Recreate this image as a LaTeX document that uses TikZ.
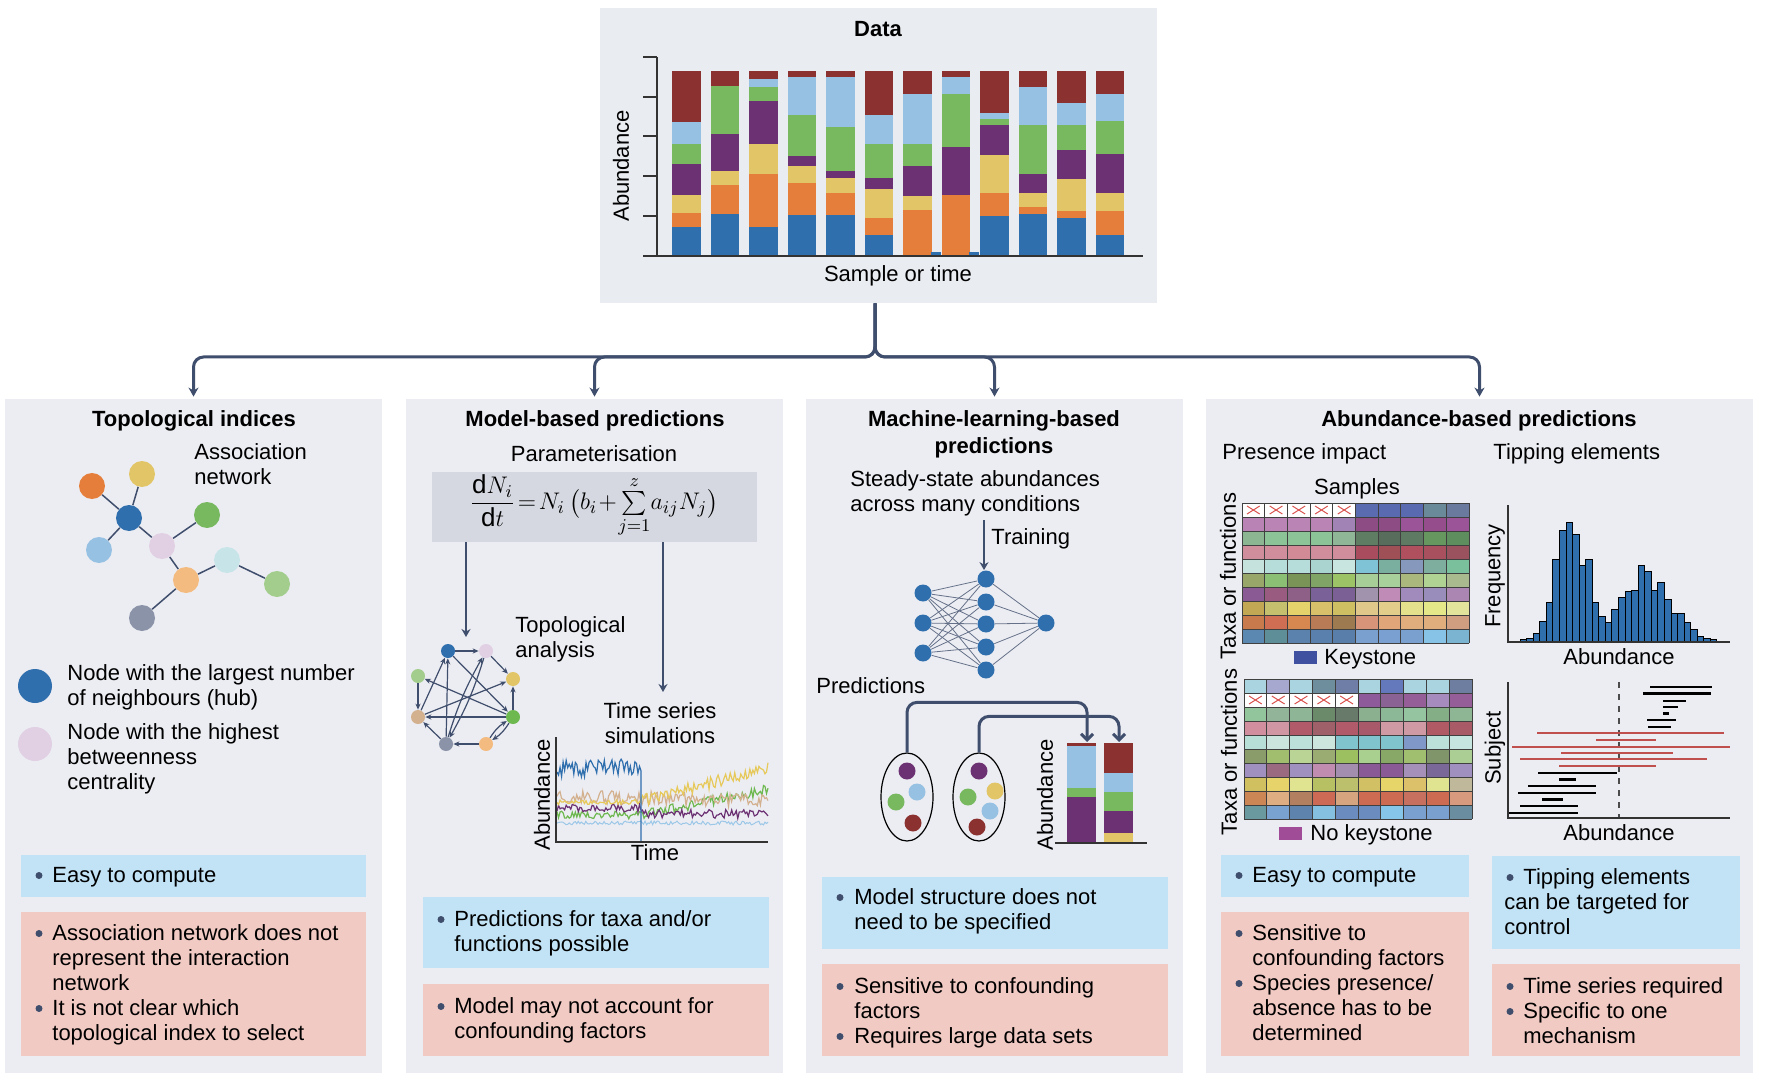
\documentclass[tikz,border=0pt]{standalone}
\usepackage{amsmath}
\usepackage{fontspec}
\setmainfont{Liberation Sans}
\usetikzlibrary{arrows.meta,shapes.geometric,fit}
\definecolor{slate}{HTML}{3F4E6C}
\definecolor{panelbg}{HTML}{ECEDF3}
\definecolor{databg}{HTML}{E9ECF1}
\definecolor{eqbg}{HTML}{D5D8E0}
\definecolor{probox}{HTML}{C2E3F6}
\definecolor{conbox}{HTML}{F2CAC4}
\definecolor{cred}{HTML}{8B3230}
\definecolor{clb}{HTML}{96C1E3}
\definecolor{cgreen}{HTML}{78B960}
\definecolor{cpurple}{HTML}{6B3172}
\definecolor{cyellow}{HTML}{E1C566}
\definecolor{corange}{HTML}{E57E3A}
\definecolor{cblue}{HTML}{2F6FAD}
\definecolor{cpink}{HTML}{E1CFE3}
\definecolor{cpeach}{HTML}{F4BB80}
\definecolor{ccyan}{HTML}{C7E5E8}
\definecolor{clgreen}{HTML}{A3CD8C}
\definecolor{cgray}{HTML}{8A93A8}
\definecolor{ctan}{HTML}{D3B08E}
\definecolor{ctsyel}{HTML}{E6C95A}
\definecolor{ctsgreen}{HTML}{6DB84F}
\definecolor{ctsblue}{HTML}{9CC8E8}
\definecolor{ckey}{HTML}{3F50A0}
\definecolor{cnokey}{HTML}{A04C96}
\definecolor{cxred}{HTML}{D9534F}
\definecolor{csubred}{HTML}{C0504D}
\newcommand{\tf}{\fontsize{11}{12.5}\selectfont\setbox\strutbox\hbox{\vrule height 8.75pt depth 3.75pt width 0pt}}
\newcommand{\mlines}[1]{\begin{tabular}[t]{@{}l@{}}#1\end{tabular}}
\newcommand{\mlinesc}[1]{\begin{tabular}[t]{@{}c@{}}#1\end{tabular}}
\begin{document}
\begin{tikzpicture}[x=0.5pt,y=-0.5pt,
  txt/.style={inner sep=0,font=\tf,anchor=base west},
  txtc/.style={inner sep=0,font=\tf,anchor=base},
  ttl/.style={inner sep=0,font=\tf\bfseries,anchor=base},
  rot/.style={inner sep=0,font=\tf,rotate=90,anchor=center},
  panel/.style={inner sep=0,fill=panelbg},
  pro/.style={inner sep=0,fill=probox},
  con/.style={inner sep=0,fill=conbox},
  conn/.style={draw=slate,line width=1.5pt,rounded corners=5pt,-{Stealth[length=4.5pt,width=5pt]},shorten >=1pt},
  bul/.style={fill=slate},
  dot/.style={circle,inner sep=0,minimum size=13pt},
  sdot/.style={circle,inner sep=0,minimum size=7pt},
  nn/.style={circle,inner sep=0,minimum size=8.5pt,fill=cblue},
  edge1/.style={draw=slate,line width=0.75pt},
  darr/.style={draw=slate,line width=0.6pt,-{Stealth[length=3pt,width=2.6pt]}},
  earrow/.style={draw=slate,line width=1.3pt,-{Stealth[length=4pt,width=4.5pt]}},
  mlarrow/.style={draw=slate,line width=1.5pt,rounded corners=5pt,-{Straight Barb[length=3pt,width=6pt]}},
  axis/.style={draw=black!80,line width=0.7pt},
  gl/.style={draw=black!75,line width=0.5pt}
]
\useasboundingbox (0,0) rectangle (1776,1080);
\fill[white] (0,0) rectangle (1776,1080);

% ---------- Data box ----------
\node[fit={(600,8)(1157,303)},inner sep=0,fill=databg] (data) {};
\node[ttl] (tdata) at (878,37) {Data};
\foreach \a/\b/\c/\d/\e/\f/\g/\h [count=\i from 0] in {
 213/367/432/492/586/639/682/768,
 213/258/258/403/514/554/641/768,
 213/238/261/302/431/521/682/768,
 213/232/346/468/498/548/645/768,
 213/232/381/513/533/579/645/768,
 213/346/431/533/568/654/705/768,
 213/281/431/498/588/630/768/768,
 213/232/281/440/586/586/768/768,
 213/338/356/374/465/579/648/768,
 213/262/374/521/578/621/643/768,
 213/309/374/451/538/634/654/768,
 213/281/364/461/578/634/705/768}{
  \pgfmathsetmacro\xl{672+\i*38.5}
  \pgfmathsetmacro\xr{\xl+28.5}
  \fill[cred] (\xl,{\a/3}) rectangle (\xr,{\b/3});
  \fill[clb] (\xl,{\b/3}) rectangle (\xr,{\c/3});
  \fill[cgreen] (\xl,{\c/3}) rectangle (\xr,{\d/3});
  \fill[cpurple] (\xl,{\d/3}) rectangle (\xr,{\e/3});
  \fill[cyellow] (\xl,{\e/3}) rectangle (\xr,{\f/3});
  \fill[corange] (\xl,{\f/3}) rectangle (\xr,{\g/3});
  \fill[cblue] (\xl,{\g/3}) rectangle (\xr,{\h/3});
}
\fill[cblue] (931,252) rectangle (941,256);
\fill[cblue] (969,252) rectangle (979,256);
\foreach \ty in {57,97,136,176,216} \draw[axis] (643,\ty) -- (657,\ty);
\draw[axis] (657,57) -- (657,256);
\draw[axis] (643,256) -- (1143,256);
\node[rot] (dab) at (621,166) {Abundance};
\node[txtc] (dsam) at (898,282) {Sample or time};

% ---------- Panels ----------
\node[panel,fit={(5,399)(382,1073)}] (p1) {};
\node[panel,fit={(406,399)(783,1073)}] (p2) {};
\node[panel,fit={(806,399)(1183,1073)}] (p3) {};
\node[panel,fit={(1206,399)(1753,1073)}] (p4) {};

\coordinate (hub) at (875,357);
\draw[conn] (data.south -| hub) -- (hub) -| (p1.north);
\draw[conn] (data.south -| hub) -- (hub) -| (p2.north);
\draw[conn] (data.south -| hub) -- (hub) -| (p3.north);
\draw[conn] (data.south -| hub) -- (hub) -| (p4.north);

% ---------- Panel 1 ----------
\node[ttl] (tt1) at (194,426) {Topological indices};
\node[txt] (assoc) at (194,459) {\mlines{Association\\network}};
\node[dot,fill=corange] (n1) at (92,486) {};
\node[dot,fill=cyellow] (n2) at (142,474) {};
\node[dot,fill=cblue] (n3) at (129,518) {};
\node[dot,fill=clb] (n4) at (99,550) {};
\node[dot,fill=cpink] (n5) at (162,546) {};
\node[dot,fill=cgreen] (n6) at (207,515) {};
\node[dot,fill=cpeach] (n7) at (186,580) {};
\node[dot,fill=ccyan] (n8) at (227,560) {};
\node[dot,fill=clgreen] (n9) at (277,584) {};
\node[dot,fill=cgray] (n10) at (142,618) {};
\draw[edge1] (n3) -- (n1);
\draw[edge1] (n3) -- (n2);
\draw[edge1] (n3) -- (n4);
\draw[edge1] (n3) -- (n5);
\draw[edge1] (n5) -- (n6);
\draw[edge1] (n5) -- (n7);
\draw[edge1] (n7) -- (n8);
\draw[edge1] (n8) -- (n9);
\draw[edge1] (n7) -- (n10);
\node[circle,inner sep=0,minimum size=17pt,fill=cblue] (lg1) at (35,686) {};
\node[circle,inner sep=0,minimum size=17pt,fill=cpink] (lg2) at (35,744) {};
\node[txt] (lgt1) at (67,680) {\mlines{Node with the largest number\\of neighbours (hub)}};
\node[txt] (lgt2) at (67,739) {\mlines{Node with the highest\\betweenness\\centrality}};
\node[pro,fit={(21,855)(366,897)}] (b1) {};
\fill[bul] (39,875.5) circle (1.75pt);
\node[txt] (b1t) at (52,882) {Easy to compute};
\node[con,fit={(21,912)(366,1056)}] (c1) {};
\fill[bul] (39,933.5) circle (1.75pt);
\fill[bul] (39,1008.5) circle (1.75pt);
\node[txt] (c1t) at (52,940) {\mlines{Association network does not\\represent the interaction\\network\\It is not clear which\\topological index to select}};

% ---------- Panel 2 ----------
\node[ttl] (tt2) at (595,426) {Model-based predictions};
\node[txtc] (param) at (594,461) {Parameterisation};
\node[fit={(432,472)(757,542)},inner sep=0,fill=eqbg] (eqbox) {};
\node[inner sep=0,font=\fontsize{13}{15}\selectfont] (eq) at (594,506)
  {$\displaystyle\frac{\mathrm{d}N_i}{\mathrm{d}t}\!=\!N_i\,\bigl(b_i\!+\!\textstyle\sum\limits_{j=1}^{z}\!a_{ij}N_j\bigr)$};
\coordinate (ea) at (466,637);
\coordinate (eb) at (663,692);
\draw[earrow] (eqbox.south -| ea) -- (ea);
\draw[earrow] (eqbox.south -| eb) -- (eb);
\node[sdot,fill=cblue] (m1) at (448,651) {};
\node[sdot,fill=cpink] (m2) at (486,651) {};
\node[sdot,fill=cyellow] (m3) at (513,679) {};
\node[sdot,fill=ctsgreen] (m4) at (513,717) {};
\node[sdot,fill=cpeach] (m5) at (486,744) {};
\node[sdot,fill=cgray] (m6) at (446,744) {};
\node[sdot,fill=ctan] (m7) at (418,717) {};
\node[sdot,fill=clgreen] (m8) at (418,676) {};
\draw[darr] (m1) -- (m2);
\draw[darr] (m2) -- (m3);
\draw[darr] (m1) -- (m4);
\draw[darr] (m2) to[bend left=6] (m6);
\draw[darr] (m6) to[bend left=6] (m2);
\draw[darr] (m4) -- (m8);
\draw[darr] (m7) -- (m3);
\draw[darr] (m4) -- (m7);
\draw[darr] (m8) -- (m7);
\draw[darr] (m7) -- (m1);
\draw[darr] (m6) -- (m1);
\draw[darr] (m4) -- (m3);
\draw[darr] (m5) to[bend left=12] (m4);
\draw[darr] (m4) to[bend left=12] (m5);
\draw[darr] (m5) -- (m6);
\draw[darr] (m6) -- (m7);
\node[txt] (topo) at (515,632) {\mlines{Topological\\analysis}};
\node[txtc] (tss) at (660,718) {\mlinesc{Time series\\simulations}};
\pgfmathsetseed{11}
\draw[ctsblue,line width=0.5pt] plot[domain=557:768,samples=140] (\x,{823+2*rand});
\draw[ctsgreen,line width=0.6pt] plot[domain=557:641,samples=56] (\x,{815+4*rand});
\draw[ctsgreen,line width=0.6pt] plot[domain=641:768,samples=85] (\x,{815-(\x-641)*0.2+5*rand});
\draw[cpurple,line width=0.6pt] plot[domain=557:641,samples=56] (\x,{808+4*rand});
\draw[cpurple,line width=0.6pt] plot[domain=641:768,samples=85] (\x,{814+4.5*rand});
\draw[ctan,line width=0.6pt] plot[domain=557:768,samples=140] (\x,{797+(\x-557)*0.015+7*rand});
\draw[ctsyel,line width=0.6pt] plot[domain=557:641,samples=56] (\x,{802+2.5*rand});
\draw[ctsyel,line width=0.6pt] plot[domain=641:768,samples=85] (\x,{801-(\x-641)*0.26+6*rand});
\draw[cblue,line width=0.6pt] plot[domain=557:641,samples=56] (\x,{768+9*rand}) -- (641,842);
\draw[axis] (556,737) -- (556,842) -- (768,842);
\node[rot] (tsab) at (542,795) {Abundance};
\node[txtc] (tstime) at (655,860) {Time};
\node[pro,fit={(423,897)(769,968)}] (b2) {};
\fill[bul] (441,919.5) circle (1.75pt);
\node[txt] (b2t) at (454,926) {\mlines{Predictions for taxa and/or\\functions possible}};
\node[con,fit={(423,984)(769,1056)}] (c2) {};
\fill[bul] (441,1006.5) circle (1.75pt);
\node[txt] (c2t) at (454,1013) {\mlines{Model may not account for\\confounding factors}};

% ---------- Panel 3 ----------
\node[ttl] (tt3) at (994,426) {\mlinesc{Machine-learning-based\\[1pt]predictions}};
\node[txt] (steady) at (850,486) {\mlines{Steady-state abundances\\across many conditions}};
\node[nn] (i1) at (923,593) {};
\node[nn] (i2) at (923,623) {};
\node[nn] (i3) at (923,653) {};
\node[nn] (h1) at (986,579) {};
\node[nn] (h2) at (986,602) {};
\node[nn] (h3) at (986,624) {};
\node[nn] (h4) at (986,647) {};
\node[nn] (h5) at (986,670) {};
\node[nn] (o1) at (1046,623) {};
\foreach \i in {1,2,3} \foreach \j in {1,...,5} \draw[draw=slate!80,line width=0.4pt] (i\i) -- (h\j);
\foreach \j in {1,...,5} \draw[draw=slate!80,line width=0.4pt] (h\j) -- (o1);
\coordinate (trs) at (984,520);
\draw[draw=slate,line width=1pt,-{Stealth[length=4pt,width=4.5pt]}] (trs) -- (trs |- h1.north);
\node[txt] (train) at (991,544) {Training};
\node[txt] (pred) at (816,693) {Predictions};
\node[ellipse,draw=black,line width=0.6pt,minimum width=26pt,minimum height=44pt,inner sep=0] (ell1) at (907,797) {};
\node[ellipse,draw=black,line width=0.6pt,minimum width=26pt,minimum height=44pt,inner sep=0] (ell2) at (979,797) {};
\node[circle,inner sep=0,minimum size=8.5pt,fill=cpurple] (e1a) at (907,771) {};
\node[circle,inner sep=0,minimum size=8.5pt,fill=clb] (e1b) at (917,792) {};
\node[circle,inner sep=0,minimum size=8.5pt,fill=cgreen] (e1c) at (896,802) {};
\node[circle,inner sep=0,minimum size=8.5pt,fill=cred] (e1d) at (913,823) {};
\node[circle,inner sep=0,minimum size=8.5pt,fill=cpurple] (e2a) at (979,771) {};
\node[circle,inner sep=0,minimum size=8.5pt,fill=cyellow] (e2b) at (995,791) {};
\node[circle,inner sep=0,minimum size=8.5pt,fill=cgreen] (e2c) at (968,797) {};
\node[circle,inner sep=0,minimum size=8.5pt,fill=clb] (e2d) at (990,811) {};
\node[circle,inner sep=0,minimum size=8.5pt,fill=cred] (e2e) at (977,827) {};
\fill[cred] (1067,742.7) rectangle (1096,746);
\fill[clb] (1067,746) rectangle (1096,787.7);
\fill[cgreen] (1067,787.7) rectangle (1096,797.3);
\fill[cpurple] (1067,797.3) rectangle (1096,843);
\fill[cred] (1104,742.7) rectangle (1133,772.7);
\fill[clb] (1104,772.7) rectangle (1133,791.7);
\fill[cgreen] (1104,791.7) rectangle (1133,811);
\fill[cpurple] (1104,811) rectangle (1133,833.3);
\fill[cyellow] (1104,833.3) rectangle (1133,843);
\draw[axis] (1055,843) -- (1147,843);
\node[rot] (mlab) at (1045,795) {Abundance};
\coordinate (bt1) at (1087,742);
\coordinate (bt2) at (1119,742);
\draw[mlarrow] (ell1.north) -- ++(0,-50) -| (bt1);
\draw[mlarrow] (ell2.north) -- ++(0,-36) -| (bt2);
\node[pro,fit={(822,877)(1168,949)}] (b3) {};
\fill[bul] (840,897.5) circle (1.75pt);
\node[txt] (b3t) at (854,904) {\mlines{Model structure does not\\need to be specified}};
\node[con,fit={(822,964)(1168,1056)}] (c3) {};
\fill[bul] (840,986.5) circle (1.75pt);
\fill[bul] (840,1036.5) circle (1.75pt);
\node[txt] (c3t) at (854,993) {\mlines{Sensitive to confounding\\factors\\Requires large data sets}};

% ---------- Panel 4 ----------
\node[ttl] (tt4) at (1479,426) {Abundance-based predictions};
\node[txt] (presence) at (1222,459) {Presence impact};
\node[txt] (tipping) at (1493,459) {Tipping elements};
\node[txtc] (samples) at (1357,494) {Samples};
\foreach \row [count=\r from 0] in {
 {FFFFFF,FFFFFF,FFFFFF,FFFFFF,FFFFFF,5B6BAF,5A6AB0,5A6AB0,6A8A9A,6A7A9F},
 {B983B5,BA84B5,BA84B5,BA84B5,A283B5,8E4C85,8E4C85,9B5497,954E8B,9B5497},
 {8CB592,8DC497,8DC497,8DC497,90B698,5E7D62,586D5C,5E7A62,66975F,5E8E5E},
 {D08E9C,D08E9C,D28A96,D08E9C,D08E9C,A84C5E,9E5056,B0505F,A9505F,9A525E},
 {C5E2DC,B6DDDA,B6DDDA,A9D4D0,C8E6DF,7EC4D6,7AAE9E,8698BC,7EAE9E,7AC09C},
 {98A66A,8BC074,7A9458,80A366,9CC466,A7CE96,A8D09A,AAB87E,B0D394,A9BB8E},
 {8A5A95,9A5B80,8E6088,7A6197,7A6095,A193AE,C08BB6,A08BBC,998DBB,AB86B2},
 {C2A855,C4C06E,E3D36A,D8C06A,CDBF62,E0C88A,E2CE8A,E3E18C,E4E888,E1E49A},
 {C97A4C,CF6E52,D78850,B87B56,9E7A50,D89478,E1A57A,DFAE7C,DFAE7C,CF9E80},
 {5B88B0,5E8E98,5B82AC,5A80AE,5A7EAA,7AA0D0,7AA0D2,7AA0D0,86C3E6,7AB4D0}}{
  \foreach \c [count=\k from 0] in \row {
    \definecolor{cc}{HTML}{\c}
    \fill[cc] ({1242+\k*22.7},{503+\r*14}) rectangle ++(22.7,14);
  }
}
\foreach \i in {0,...,10} {
  \draw[gl] ({1242+\i*22.7},503) -- ++(0,140);
  \draw[gl] (1242,{503+\i*14}) -- ++(227,0);
}
\foreach \k in {0,...,4} {
  \draw[cxred,line width=0.5pt] ({1242+\k*22.7+5},506) -- ++(12.7,8);
  \draw[cxred,line width=0.5pt] ({1242+\k*22.7+5},514) -- ++(12.7,-8);
}
\foreach \row [count=\r from 0] in {
 {A9D4E0,A7A8D0,A9D4E0,6E8E9E,6E7EA6,A9D4E0,6478BC,A9D4E0,A9D4E0,6E7EA0},
 {FFFFFF,FFFFFF,FFFFFF,FFFFFF,FFFFFF,8E5A9A,8A6294,965E98,A68BBE,965E98},
 {92C59C,92B59A,8EB696,6A8A6A,687A6A,8AB090,8CB898,94C4A0,84AE86,8EB694},
 {D08E9E,D096A4,B05A6A,A0606A,B05A6A,A85A6A,D09AA4,D09AA4,B05A66,A85A66},
 {B8DED8,CBE4DE,BCE0DA,CCE6DE,80C4CE,80C4CE,80C4CE,8098C8,BCE0DA,C6E4E0},
 {8A9C6A,A0BE6E,BAD496,9AAC72,9CC060,AAD090,88A868,A0C070,80966A,AACE94},
 {A090C0,9A6A80,A090C0,C08CB0,A48EB0,8A5A96,8A5A96,A490B8,7A6898,A090C0},
 {D0C060,E6D46A,E0E490,B8C064,BCC06C,D2C064,E6D66A,DCC06A,E0E490,C0B89A},
 {CC8656,DEAE82,B28060,CC6A56,D6A47E,CC6A52,CC6A52,C87060,CC6A52,D89A7E},
 {6A9AA0,7AA2D0,5E84AE,86C0E0,6A8CBE,6A8CBE,86C6E8,7AA0D0,7AA0D0,6A8EA0}}{
  \foreach \c [count=\k from 0] in \row {
    \definecolor{cc}{HTML}{\c}
    \fill[cc] ({1244+\k*22.8},{679+\r*14}) rectangle ++(22.8,14);
  }
}
\foreach \i in {0,...,10} {
  \draw[gl] ({1244+\i*22.8},679) -- ++(0,140);
  \draw[gl] (1244,{679+\i*14}) -- ++(228,0);
}
\foreach \k in {0,...,4} {
  \draw[cxred,line width=0.5pt] ({1244+\k*22.8+5},696) -- ++(12.8,8);
  \draw[cxred,line width=0.5pt] ({1244+\k*22.8+5},704) -- ++(12.8,-8);
}
\node[rot] (taxa1) at (1228,576) {Taxa or functions};
\node[rot] (taxa2) at (1229,752) {Taxa or functions};
\fill[ckey] (1294,651) rectangle (1317,664);
\node[txt] (keyt) at (1324,664) {Keystone};
\fill[cnokey] (1279,827) rectangle (1302,840);
\node[txt] (nokeyt) at (1310,840) {No keystone};
% histogram
\foreach \t [count=\i from 0] in {748,745,730,693,637,508,420,398,432,527,508,637,680,697,658,622,605,600,527,545,600,577,627,670,670,697,718,740,745,748}{
  \filldraw[fill=cblue,draw=black,line width=0.4pt] ({1520+\i*6.56},642) rectangle ({1520+(\i+1)*6.56},{390+\t/3});
}
\draw[axis] (1508,505) -- (1508,642) -- (1730,642);
\node[rot] (freq) at (1495,576) {Frequency};
\node[txtc] (hab) at (1619,664) {Abundance};
% subject plot
\draw[black!70,dashed,dash pattern=on 3pt off 3pt,line width=0.6pt] (1619,682) -- (1619,818);
\foreach \yy/\xa/\xb in {687/1650/1712,693.3/1643/1711,700.7/1663/1686,706.7/1663/1678,713.3/1663/1669,720/1647/1676,726.7/1648/1671,772.7/1538/1617,779.3/1559/1576,786/1528/1596,792.7/1518/1596,799.3/1542/1563,806/1520/1578,812.7/1508/1578}
  \draw[black,line width=1.2pt] (\xa,\yy) -- (\xb,\yy);
\foreach \yy/\xa/\xb in {733.3/1537/1724,740/1596/1656,746.7/1512/1730,752.7/1561/1673,759.3/1520/1707,766/1559/1656}
  \draw[csubred,line width=1pt] (\xa,\yy) -- (\xb,\yy);
\draw[axis] (1508,682) -- (1508,818) -- (1730,818);
\node[rot] (subj) at (1495,748) {Subject};
\node[txtc] (sab) at (1619,840) {Abundance};
% boxes
\node[pro,fit={(1221,855)(1469,897)}] (b4) {};
\fill[bul] (1239,875.5) circle (1.75pt);
\node[txt] (b4t) at (1252,882) {Easy to compute};
\node[con,fit={(1221,912)(1469,1056)}] (c4) {};
\fill[bul] (1239,933.5) circle (1.75pt);
\fill[bul] (1239,983.5) circle (1.75pt);
\node[txt] (c4t) at (1252,940) {\mlines{Sensitive to\\confounding factors\\Species presence/\\absence has to be\\determined}};
\node[pro,fit={(1492,856)(1740,949)}] (b5) {};
\fill[bul] (1510,877.5) circle (1.75pt);
\node[txt] (b5t) at (1504,884) {\mlines{\hspace{9.5pt}Tipping elements\\can be targeted for\\control}};
\node[con,fit={(1492,964)(1740,1056)}] (c5) {};
\fill[bul] (1510,986.5) circle (1.75pt);
\fill[bul] (1510,1011.5) circle (1.75pt);
\node[txt] (c5t) at (1523,993) {\mlines{Time series required\\Specific to one\\mechanism}};
\end{tikzpicture}
\end{document}
